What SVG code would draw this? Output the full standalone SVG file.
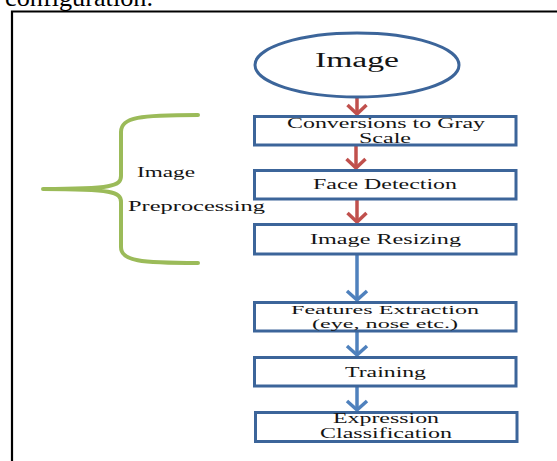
<svg xmlns="http://www.w3.org/2000/svg" width="557" height="461" viewBox="0 0 557 461">
<style>
  .t{font-family:"Liberation Serif","Times New Roman",serif;fill:#141414;text-anchor:middle;}
  .box{fill:#fff;stroke:#3c659a;stroke-width:3;}
  .red{stroke:#c0504d;stroke-width:3.5;fill:none;}
  .blue{stroke:#4f81bd;stroke-width:3.5;fill:none;}
</style>
<defs>
  <marker id="ar" viewBox="-12 -12 24 24" refX="0" refY="0" markerWidth="24" markerHeight="24" markerUnits="userSpaceOnUse" orient="auto" overflow="visible">
    <path d="M-9,-9.5 L0,0 L-9,9.5" fill="none" stroke="#c0504d" stroke-width="3.5" stroke-linejoin="round"/>
  </marker>
  <marker id="ab" viewBox="-12 -12 24 24" refX="0" refY="0" markerWidth="24" markerHeight="24" markerUnits="userSpaceOnUse" orient="auto" overflow="visible">
    <path d="M-9,-10 L0,0 L-9,10" fill="none" stroke="#4f81bd" stroke-width="3.5" stroke-linejoin="round"/>
  </marker>
</defs>
<rect width="557" height="461" fill="#fff"/>
<text x="5" y="5.5" font-family="Liberation Serif, serif" font-size="26" fill="#000" textLength="148" lengthAdjust="spacingAndGlyphs">configuration.</text>
<path d="M12,461 V11.5 H557" fill="none" stroke="#000" stroke-width="2.2"/>

<g id="connectors">
  <path class="red" d="M357,97 V114" marker-end="url(#ar)"/>
  <path class="red" d="M356,146 V168" marker-end="url(#ar)"/>
  <path class="red" d="M357,200 V222" marker-end="url(#ar)"/>
  <path class="blue" d="M357,255 V300" marker-end="url(#ab)"/>
  <path class="blue" d="M357,332 V355" marker-end="url(#ab)"/>
  <path class="blue" d="M357,387 V410" marker-end="url(#ab)"/>
</g>

<g id="image">
  <ellipse cx="357" cy="65" rx="102" ry="32" fill="#fff" stroke="#3c659a" stroke-width="3"/>
  <text class="t" x="357" y="67" font-size="20" textLength="84" lengthAdjust="spacingAndGlyphs">Image</text>
</g>

<g id="gray">
  <rect class="box" x="254.5" y="116.5" width="261.5" height="28.5"/>
  <text class="t" x="386" y="128" font-size="14" textLength="198" lengthAdjust="spacingAndGlyphs">Conversions to Gray</text>
  <text class="t" x="385" y="143" font-size="14" textLength="52" lengthAdjust="spacingAndGlyphs">Scale</text>
</g>

<g id="face">
  <rect class="box" x="254.5" y="170.5" width="261.5" height="28.5"/>
  <text class="t" x="385" y="189" font-size="15" textLength="144" lengthAdjust="spacingAndGlyphs">Face Detection</text>
</g>

<g id="resize">
  <rect class="box" x="254.5" y="224.5" width="261.5" height="29.5"/>
  <text class="t" x="385.5" y="244" font-size="15" textLength="151" lengthAdjust="spacingAndGlyphs">Image Resizing</text>
</g>

<g id="features">
  <rect class="box" x="254.5" y="302.5" width="261.5" height="28.5"/>
  <text class="t" x="385" y="313.5" font-size="13" textLength="188" lengthAdjust="spacingAndGlyphs">Features Extraction</text>
  <text class="t" x="385" y="328" font-size="13" textLength="146" lengthAdjust="spacingAndGlyphs">(eye, nose etc.)</text>
</g>

<g id="training">
  <rect class="box" x="254.5" y="357.5" width="261.5" height="28.5"/>
  <text class="t" x="385.5" y="377" font-size="15" textLength="81" lengthAdjust="spacingAndGlyphs">Training</text>
</g>

<g id="classification">
  <rect class="box" x="255.5" y="412.5" width="261.5" height="29"/>
  <text class="t" x="386" y="423" font-size="14" textLength="106" lengthAdjust="spacingAndGlyphs">Expression</text>
  <text class="t" x="386" y="438" font-size="14" textLength="132" lengthAdjust="spacingAndGlyphs">Classification</text>
</g>

<g id="preprocessing">
  <path d="M198,115 C140,115 121,117 121,132 L121,176 C121,186 112,189 43,189 C112,189 121,192 121,202 L121,247 C121,261 140,263 198,263" fill="none" stroke="#9bbb59" stroke-width="4" stroke-linecap="round" stroke-linejoin="round"/>
  <text x="137" y="177" font-family="Liberation Serif, serif" font-size="15" fill="#141414" textLength="58" lengthAdjust="spacingAndGlyphs">Image</text>
  <text x="128" y="211" font-family="Liberation Serif, serif" font-size="15" fill="#141414" textLength="137" lengthAdjust="spacingAndGlyphs">Preprocessing</text>
</g>
</svg>
